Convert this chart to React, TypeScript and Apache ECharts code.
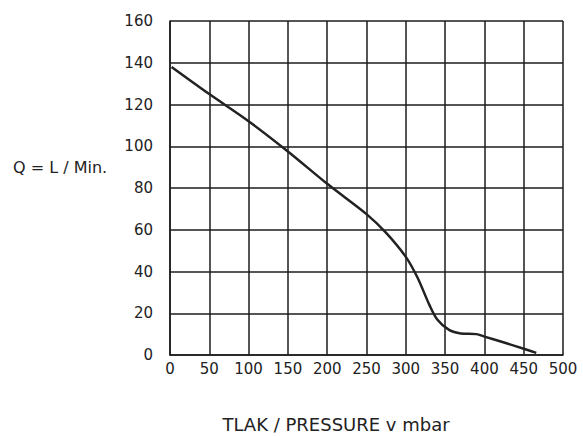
import React, { useEffect, useRef } from "react";
import * as echarts from "echarts";

const pressure = [2, 50, 100, 150, 200, 250, 275, 300, 315, 330, 340, 355, 370, 390, 400, 425, 450, 466];
const flow = [138, 125, 112, 97.5, 82, 67.5, 58.5, 47, 37, 24, 17, 12, 10.3, 10, 8.8, 6, 3, 1];
const yTitle = "Q = L / Min.";
const xTitle = "TLAK / PRESSURE v mbar";

export default function App() {
  const ref = useRef<HTMLDivElement>(null);
  useEffect(() => {
    if (!ref.current) return;
    const chart = echarts.init(ref.current, null, { renderer: "svg" });
    const font = "DejaVu Sans";
    const lineColor = "#1c1c1c";
    chart.setOption({
      animation: false,
      backgroundColor: "#ffffff",
      textStyle: { fontFamily: font },
      grid: { left: 170, right: 20, top: 21, bottom: 81, containLabel: false },
      xAxis: {
        type: "value",
        min: 0,
        max: 500,
        interval: 50,
        axisLine: { show: true, lineStyle: { color: lineColor, width: 1.5 } },
        axisTick: { show: false },
        splitLine: { show: true, lineStyle: { color: lineColor, width: 1.5 } },
        axisLabel: { color: "#222", fontSize: 15, fontFamily: font, margin: 6 },
      },
      yAxis: {
        type: "value",
        min: 0,
        max: 160,
        interval: 20,
        axisLine: { show: true, lineStyle: { color: lineColor, width: 1.5 } },
        axisTick: { show: false },
        splitLine: { show: true, lineStyle: { color: lineColor, width: 1.5 } },
        axisLabel: { color: "#222", fontSize: 15, fontFamily: font, margin: 17, padding: [0, 0, 7, 0] },
      },
      graphic: [
        {
          type: "text",
          left: 13,
          top: 159,
          style: { text: yTitle, fontSize: 16, fontFamily: font, fill: "#222" },
        },
        {
          type: "text",
          x: 336,
          y: 424,
          style: { text: xTitle, fontSize: 18, fontFamily: font, fill: "#222", align: "center", verticalAlign: "middle" },
        },
      ],
      series: [
        {
          type: "line",
          data: pressure.map((p, i) => [p, flow[i]]),
          smooth: 0.3,
          showSymbol: false,
          lineStyle: { color: "#222", width: 2.5 },
        },
      ],
    });
    return () => chart.dispose();
  }, []);
  return <div ref={ref} style={{ position: "fixed", left: 0, top: 0, width: 583, height: 436 }} />;
}
